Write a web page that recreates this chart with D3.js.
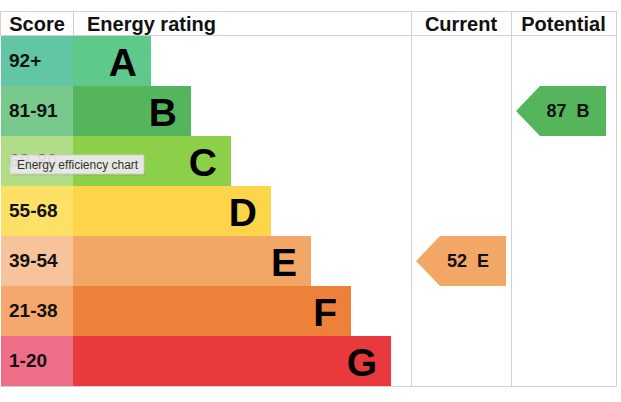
<!DOCTYPE html>
<html>
<head>
<meta charset="utf-8">
<script src="https://cdn.jsdelivr.net/npm/d3@7"></script>
<style>
  body { margin: 0; background: #fff; }
  svg { display: block; font-family: "Liberation Sans", Arial, Helvetica, sans-serif; }
</style>
</head>
<body>
<div id="chart"></div>
<script>
// bands, top to bottom
var ratings = ['A', 'B', 'C', 'D', 'E', 'F', 'G'];
var scoreRanges = ['92+', '81-91', '69-80', '55-68', '39-54', '21-38', '1-20'];
var barColors = ['#5ec98a', '#55b55c', '#8ccf49', '#fdd54a', '#f2a766', '#ee813a', '#e83a3d'];
var scoreColors = ['#62c6a4', '#79c98c', '#b0dd86', '#fde066', '#f7c39a', '#f4a86e', '#ee6e87'];
var headers = ['Score', 'Energy rating', 'Current', 'Potential'];

var currentScore = 52, currentRating = 'E';
var potentialScore = 87, potentialRating = 'B';

var width = 621, height = 402;
var topY = 11, headH = 25, bottomY = 386;
var scoreW = 73, curX = 411, potX = 511, rightX = 616;

var svg = d3.select('#chart').append('svg')
  .attr('width', width)
  .attr('height', height);

var y = d3.scaleBand()
  .domain(ratings)
  .range([topY + headH, bottomY])
  .padding(0);

// bar right edge grows one step per band
var barEnd = d3.scaleLinear()
  .domain([0, ratings.length - 1])
  .range([151, 391]);

var gridColor = '#d0d0d0';

// rows
var rows = svg.selectAll('g.row').data(ratings).enter().append('g')
  .attr('class', 'row')
  .attr('transform', function(d){ return 'translate(0,' + y(d) + ')'; });

rows.append('rect')
  .attr('x', 1)
  .attr('width', scoreW - 1)
  .attr('height', y.bandwidth())
  .attr('fill', function(d, i){ return scoreColors[i]; });

rows.append('rect')
  .attr('x', scoreW)
  .attr('width', function(d, i){ return barEnd(i) - scoreW; })
  .attr('height', y.bandwidth())
  .attr('fill', function(d, i){ return barColors[i]; });

rows.append('text')
  .attr('x', 9)
  .attr('y', y.bandwidth() / 2 + 6)
  .attr('font-size', 19)
  .attr('font-weight', 'bold')
  .attr('fill', '#111')
  .text(function(d, i){ return scoreRanges[i]; });

rows.append('text')
  .attr('x', function(d, i){ return barEnd(i) - 14; })
  .attr('y', y.bandwidth() / 2 + 14.5)
  .attr('text-anchor', 'end')
  .attr('font-size', 39)
  .attr('font-weight', 'bold')
  .attr('fill', '#000')
  .text(function(d){ return d; });

// grid lines
svg.append('line').attr('x1', 0).attr('x2', rightX).attr('y1', topY + 0.5).attr('y2', topY + 0.5)
  .attr('stroke', gridColor);
svg.append('line').attr('x1', 0).attr('x2', rightX).attr('y1', topY + headH - 0.5).attr('y2', topY + headH - 0.5)
  .attr('stroke', gridColor);
svg.append('line').attr('x1', 0).attr('x2', rightX).attr('y1', bottomY + 0.5).attr('y2', bottomY + 0.5)
  .attr('stroke', gridColor);
[curX, potX, rightX].forEach(function(x){
  svg.append('line').attr('x1', x + 0.5).attr('x2', x + 0.5).attr('y1', topY).attr('y2', bottomY)
    .attr('stroke', gridColor);
});
svg.append('line').attr('x1', 0.5).attr('x2', 0.5).attr('y1', topY).attr('y2', topY + headH)
  .attr('stroke', gridColor);
svg.append('line').attr('x1', scoreW + 0.5).attr('x2', scoreW + 0.5).attr('y1', topY).attr('y2', topY + headH)
  .attr('stroke', gridColor);

// headers
var headX = [37, 87, (curX + potX) / 2, (potX + rightX) / 2];
var headAnchor = ['middle', 'start', 'middle', 'middle'];
svg.selectAll('text.head').data(headers).enter().append('text')
  .attr('class', 'head')
  .attr('x', function(d, i){ return headX[i]; })
  .attr('y', topY + 20)
  .attr('text-anchor', function(d, i){ return headAnchor[i]; })
  .attr('font-size', 20)
  .attr('font-weight', 'bold')
  .attr('fill', '#111')
  .text(function(d){ return d; });

// arrow markers
function drawArrow(x0, score, rating){
  var i = ratings.indexOf(rating);
  var y0 = y(rating), h = y.bandwidth();
  var x1 = x0 + 90, tip = 24;
  svg.append('path')
    .attr('d', d3.line()([[x0, y0 + h / 2], [x0 + tip, y0], [x1, y0], [x1, y0 + h], [x0 + tip, y0 + h]]) + 'Z')
    .attr('fill', barColors[i]);
  svg.append('text')
    .attr('x', x0 + 52)
    .attr('y', y0 + h / 2 + 6)
    .attr('text-anchor', 'middle')
    .attr('font-size', 18)
    .attr('font-weight', 'bold')
    .attr('fill', '#111')
    .attr('xml:space', 'preserve')
    .text(score + '  ' + rating);
}
drawArrow(curX + 5, currentScore, currentRating);
drawArrow(potX + 5, potentialScore, potentialRating);

// browser tooltip seen in the picture
var tip = svg.append('g').attr('transform', 'translate(10,155)');
tip.append('rect')
  .attr('x', 1).attr('y', 1.5)
  .attr('width', 134).attr('height', 19)
  .attr('fill', '#000')
  .attr('fill-opacity', 0.08);
tip.append('rect')
  .attr('width', 134).attr('height', 19)
  .attr('fill', '#ebebeb')
  .attr('fill-opacity', 0.94)
  .attr('stroke', '#cdcdcd')
  .attr('rx', 1);
tip.append('text')
  .attr('x', 7).attr('y', 13.5)
  .attr('font-size', 12)
  .attr('fill', '#333')
  .text('Energy efficiency chart');
</script>
</body>
</html>
